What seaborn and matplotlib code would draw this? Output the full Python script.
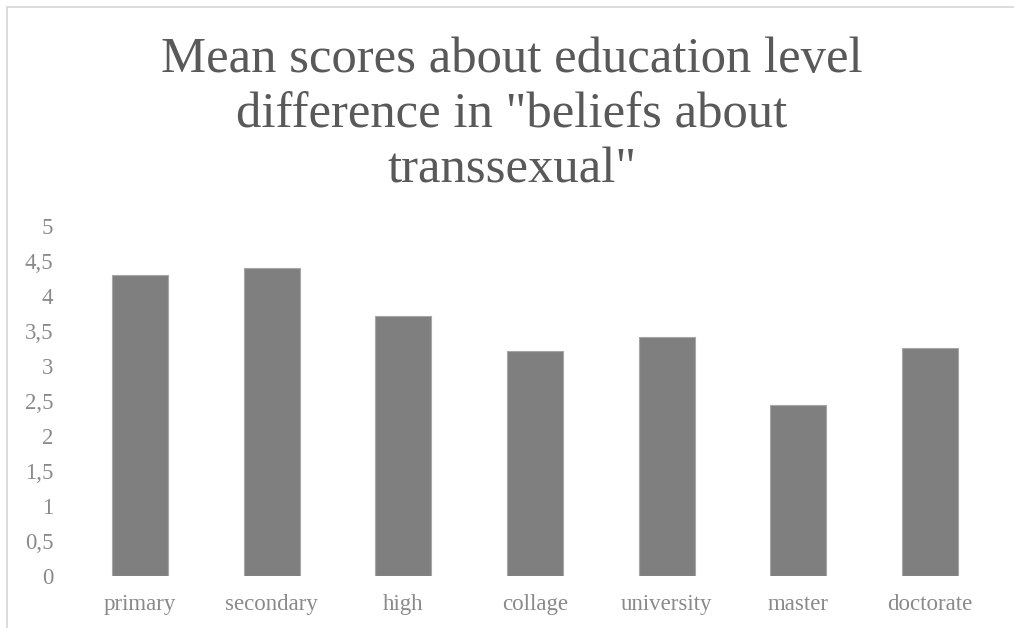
import matplotlib
matplotlib.use("Agg")
import matplotlib.pyplot as plt
from matplotlib.lines import Line2D
from matplotlib.ticker import FixedLocator, FuncFormatter
import seaborn as sns
import pandas as pd

# Mean score per education level
levels = ["primary", "secondary", "high", "collage", "university", "master", "doctorate"]
mean_scores = [4.30, 4.40, 3.72, 3.21, 3.41, 2.45, 3.26]
y_ticks = [0, 0.5, 1, 1.5, 2, 2.5, 3, 3.5, 4, 4.5, 5]

title = 'Mean scores about education level\ndifference in "beliefs about\ntranssexual"'

df = pd.DataFrame({"level": levels, "score": mean_scores})

sns.set_theme(style="white")
plt.rcParams["font.family"] = ["Liberation Serif", "DejaVu Serif"]

W, H = 1014, 628
fig = plt.figure(figsize=(W / 100, H / 100), dpi=100)
ax = fig.add_axes([74 / W, 1 - 576 / H, 922 / W, 350 / H])

sns.barplot(data=df, x="level", y="score", ax=ax, color="#7f7f7f",
            saturation=1, width=0.425, edgecolor="#a6a6a6", linewidth=0.8)

ax.set_ylim(0, 5)
ax.set_xlim(-0.5, len(levels) - 0.5)
ax.yaxis.set_major_locator(FixedLocator(y_ticks))
ax.yaxis.set_major_formatter(FuncFormatter(lambda v, _: f"{v:g}".replace(".", ",")))
ax.tick_params(axis="y", length=0, pad=15, labelsize=16.5, labelcolor="#8a8a8a")
ax.tick_params(axis="x", length=0, pad=13, labelsize=16.5, labelcolor="#8a8a8a")
ax.set_xlabel("")
ax.set_ylabel("")
for side in ax.spines.values():
    side.set_visible(False)
ax.grid(False)

fig.text(512 / W, 1 - 115 / H, title, ha="center", va="center",
         fontsize=36.5, color="#595959", linespacing=1.25)

# Chart frame edges (top and left)
fig.add_artist(Line2D([6.7 / W, 1.0], [1 - 6.7 / H, 1 - 6.7 / H],
                      transform=fig.transFigure, color="#d9d9d9", lw=1.3))
fig.add_artist(Line2D([6.7 / W, 6.7 / W], [0, 1 - 6.7 / H],
                      transform=fig.transFigure, color="#d9d9d9", lw=1.3))

fig.savefig("out.png", dpi=100, facecolor="white")
